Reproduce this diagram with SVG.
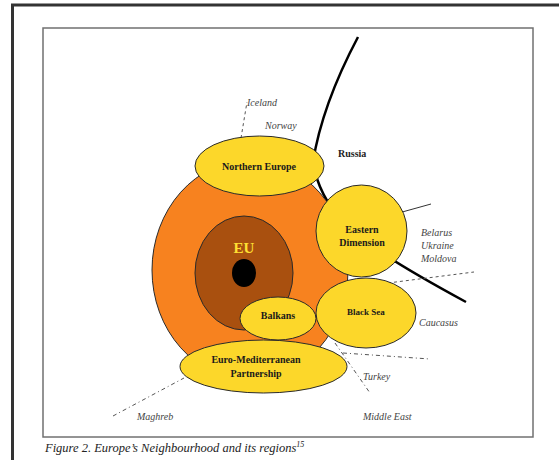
<svg xmlns="http://www.w3.org/2000/svg" width="559" height="460" viewBox="0 0 559 460">
<style>
.node{fill:#FCD72A;stroke:#2a2a2a;stroke-width:1}
.lbl{font-family:"Liberation Serif",serif;font-weight:bold;font-size:10px;fill:#1a1a1a;text-anchor:middle}
.ital{font-family:"Liberation Serif",serif;font-style:italic;font-size:10px;fill:#444}
.dash{fill:none;stroke:#555;stroke-width:1;stroke-dasharray:3,3}
.dashdot{fill:none;stroke:#555;stroke-width:1;stroke-dasharray:4,3,1,3}
</style>
<rect width="559" height="460" fill="#ffffff"/>
<path d="M12.5,460 V5 H559" fill="none" stroke="#333" stroke-width="3"/>
<rect x="43" y="28" width="490" height="409" fill="#ffffff" stroke="#707070" stroke-width="1.5"/>
<g id="connectors">
<path d="M358,37 Q322,105 313,162 Q318,195 345,225 Q370,250 466,302" fill="none" stroke="#000" stroke-width="2.5"/>
<line x1="395" y1="214" x2="431" y2="204" stroke="#333" stroke-width="1"/>
<line x1="388" y1="283" x2="474" y2="272" class="dash"/>
<line x1="241" y1="138" x2="247" y2="102" class="dash"/>
<line x1="113" y1="416" x2="184" y2="378" class="dashdot"/>
<line x1="335" y1="343" x2="370" y2="393" class="dashdot"/>
<line x1="343" y1="353" x2="430" y2="359" class="dashdot"/>
</g>
<g id="neighbourhood">
<ellipse cx="250" cy="270" rx="98" ry="110" fill="#F7821F" stroke="#2a2a2a" stroke-width="1"/>
</g>
<g id="eu">
<ellipse cx="244" cy="273" rx="49" ry="57" fill="#A9500F" stroke="#2a2a2a" stroke-width="1"/>
<ellipse cx="244" cy="273" rx="12" ry="14" fill="#000"/>
<text x="244" y="253" font-family="Liberation Serif,serif" font-weight="bold" font-size="15" fill="#FFE033" text-anchor="middle">EU</text>
</g>
<g id="northern-europe">
<ellipse class="node" cx="259.5" cy="166" rx="64.5" ry="30"/>
<text class="lbl" x="259" y="169.5">Northern Europe</text>
</g>
<g id="eastern-dimension">
<ellipse class="node" cx="361.5" cy="231" rx="45.5" ry="46"/>
<text class="lbl" x="362" y="232.5">Eastern</text>
<text class="lbl" x="362" y="246">Dimension</text>
</g>
<g id="black-sea">
<ellipse class="node" cx="366" cy="313" rx="50" ry="35"/>
<text class="lbl" x="366" y="315" style="font-size:9px">Black Sea</text>
</g>
<g id="balkans">
<ellipse class="node" cx="278" cy="318.5" rx="38" ry="21.5"/>
<text class="lbl" x="278" y="318.5">Balkans</text>
</g>
<g id="euro-med">
<ellipse class="node" cx="263.5" cy="366.5" rx="83.5" ry="26.5"/>
<text class="lbl" x="256" y="363">Euro-Mediterranean</text>
<text class="lbl" x="256" y="377">Partnership</text>
</g>
<g id="labels">
<text class="ital" x="247" y="106">Iceland</text>
<text class="ital" x="265" y="129">Norway</text>
<text x="338" y="157" font-family="Liberation Serif,serif" font-weight="bold" font-size="10" fill="#222">Russia</text>
<text class="ital" x="421" y="236">Belarus</text>
<text class="ital" x="421" y="249">Ukraine</text>
<text class="ital" x="421" y="262">Moldova</text>
<text class="ital" x="419" y="326">Caucasus</text>
<text class="ital" x="363" y="380">Turkey</text>
<text class="ital" x="137" y="420">Maghreb</text>
<text class="ital" x="363" y="420">Middle East</text>
</g>
<text x="45" y="452" font-family="Liberation Serif,serif" font-style="italic" font-size="12.5" fill="#222">Figure 2. Europe’s Neighbourhood and its regions<tspan font-size="8" dy="-5">15</tspan></text>
</svg>
